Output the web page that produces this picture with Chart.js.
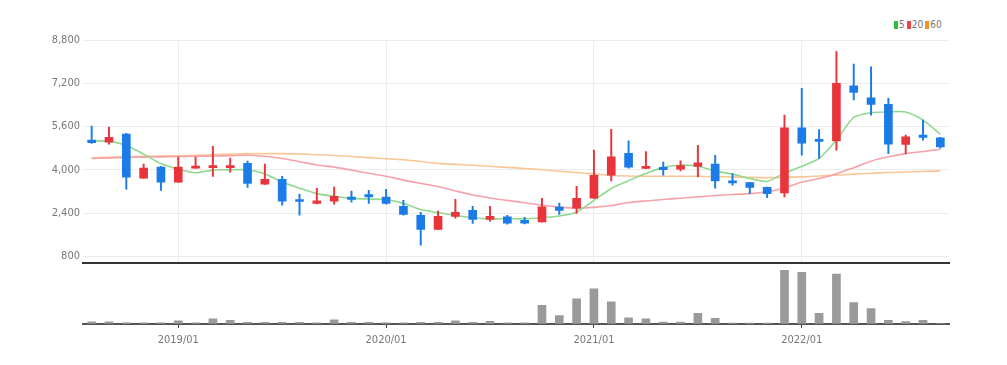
<!DOCTYPE html>
<html>
<head>
<meta charset="utf-8">
<script src="https://cdn.jsdelivr.net/npm/chart.js@4.4.1/dist/chart.umd.min.js"></script>
<style>
  html, body { margin: 0; padding: 0; background: #fff; }
  body { width: 1007px; height: 365px; position: relative; overflow: hidden;
         font-family: "Liberation Sans Narrow", "DejaVu Sans Condensed", "Liberation Sans", sans-serif; }
  #price-wrap { position: absolute; left: 0; top: 0; width: 1007px; height: 273px; }
  #vol-wrap { position: absolute; left: 0; top: 262px; width: 1007px; height: 103px; }
  #legend { position: absolute; top: 19px; left: 894px; font-size: 10px; color: #777; white-space: nowrap; }
  .legend-item { display: inline-block; margin-right: 2px; }
  .legend-dot { display: inline-block; width: 4px; height: 8px; margin-right: 1px; vertical-align: -1px; }
</style>
</head>
<body>
<div id="legend"></div>
<div id="price-wrap"><canvas id="price-canvas"></canvas></div>
<div id="vol-wrap"><canvas id="vol-canvas"></canvas></div>
<script>
const months = [
  '2018/08','2018/09','2018/10','2018/11','2018/12',
  '2019/01','2019/02','2019/03','2019/04','2019/05','2019/06','2019/07','2019/08','2019/09','2019/10','2019/11','2019/12',
  '2020/01','2020/02','2020/03','2020/04','2020/05','2020/06','2020/07','2020/08','2020/09','2020/10','2020/11','2020/12',
  '2021/01','2021/02','2021/03','2021/04','2021/05','2021/06','2021/07','2021/08','2021/09','2021/10','2021/11','2021/12',
  '2022/01','2022/02','2022/03','2022/04','2022/05','2022/06','2022/07','2022/08','2022/09',
];

const openP  = [5100,5020,5320,3690,4100,3540,4060,4080,4080,4240,3470,3650,2860,2760,2840,2990,3080,2990,2650,2320,
                1800,2280,2500,2170,2260,2130,2070,2620,2580,2950,3800,4610,4050,4090,4020,4130,4210,3590,3530,3350,
                3150,5550,5120,5070,7110,6660,6420,4940,5280,5180];
const highP  = [5615,5580,5350,4210,4130,4470,4470,4870,4430,4320,4210,3760,3100,3320,3360,3210,3240,3280,2870,2430,
                2470,2910,2650,2650,2320,2240,2950,2770,3390,4730,5500,5070,4670,4290,4330,4910,4540,3860,3540,3360,
                6020,7010,5490,8370,7910,7810,6640,5280,5840,5200];
const lowP   = [4980,4950,3280,3680,3240,3530,4050,3760,3910,3350,3460,2690,2320,2740,2730,2800,2760,2730,2320,1210,
                1790,2210,2020,2100,1990,2000,2060,2350,2390,2940,3590,4060,4040,3800,3960,3740,3320,3430,3120,2970,
                3000,4540,4420,4730,6580,6020,4600,4600,5100,4800];
const closeP = [5000,5200,3730,4060,3540,4100,4130,4130,4130,3500,3650,2840,2830,2850,3020,2910,3000,2760,2350,1800,
                2280,2430,2170,2280,2030,2030,2630,2500,2950,3800,4480,4100,4130,4010,4160,4260,3590,3520,3350,3120,
                5550,4990,5050,7200,6860,6420,4950,5220,5200,4850];

const ma5  = [5070,5060,4900,4580,4230,4020,3890,3990,4000,4000,3850,3550,3320,3120,3020,2940,2920,2900,2760,2530,
              2420,2320,2230,2190,2190,2190,2230,2290,2440,2870,3310,3600,3860,4090,4170,4130,3960,3840,3680,3570,
              3880,4130,4420,5100,5940,6110,6140,6140,5840,5320];
const ma20 = [4420,4440,4460,4470,4480,4490,4500,4510,4520,4540,4500,4420,4300,4180,4100,3990,3870,3760,3620,3500,
              3380,3220,3070,2960,2870,2780,2690,2620,2580,2610,2680,2790,2850,2900,2950,3000,3050,3090,3120,3190,
              3330,3550,3680,3850,4080,4320,4480,4600,4680,4760];
const ma60 = [4440,4460,4480,4500,4510,4520,4540,4560,4580,4600,4600,4600,4590,4560,4530,4490,4450,4410,4370,4310,
              4240,4200,4170,4130,4090,4050,4000,3950,3900,3850,3790,3770,3760,3760,3760,3760,3750,3740,3720,3710,
              3720,3740,3770,3800,3840,3870,3900,3920,3940,3960];

const volume = [20,20,10,10,10,30,10,50,35,15,15,15,15,10,40,15,15,10,10,15,
                15,30,15,25,10,10,186,83,250,350,220,60,50,17,17,106,56,8,8,8,
                536,516,106,500,213,153,36,23,36,3];

const priceTicks = [800, 2400, 4000, 5600, 7200, 8800];

const maLines = [
  { label: '5',  data: ma5,  color: '#8fd98f', legend: '#2fbf3a' },
  { label: '20', data: ma20, color: '#f5a3aa', legend: '#f0424a' },
  { label: '60', data: ma60, color: '#f9c796', legend: '#f7922d' },
];

const UP = '#e8353b', DOWN = '#1b7ce8';
const candleColors = openP.map((o, i) => closeP[i] >= o ? UP : DOWN);
const isJan = i => months[i].endsWith('/01');
const tickFont = { family: '"Liberation Sans Narrow", "DejaVu Sans Condensed", sans-serif', size: 11 };

document.getElementById('legend').innerHTML = maLines.map(m =>
  `<span class="legend-item"><span class="legend-dot" style="background:${m.legend}"></span>${m.label}</span>`
).join('');

new Chart(document.getElementById('price-canvas'), {
  type: 'bar',
  data: {
    labels: months,
    datasets: [
      ...maLines.map(m => ({
        type: 'line', label: m.label, data: m.data, borderColor: m.color, backgroundColor: m.color,
        borderWidth: 1.6, pointRadius: 0, tension: 0.25, order: 5,
      })),
      { label: 'wick', data: lowP.map((l, i) => [l, highP[i]]), backgroundColor: candleColors,
        barThickness: 1.3, grouped: false, order: 1 },
      { label: 'body', data: openP.map((o, i) => [o, closeP[i]]), backgroundColor: candleColors,
        barThickness: 8, minBarLength: 2, grouped: false, order: 0 },
    ],
  },
  options: {
    responsive: true,
    maintainAspectRatio: false,
    animation: false,
    layout: { padding: { top: 40, right: 58, left: 0, bottom: 0 } },
    plugins: { legend: { display: false }, tooltip: { enabled: false } },
    scales: {
      x: {
        offset: true,
        ticks: { display: false },
        grid: { offset: false, drawTicks: false, color: c => isJan(c.index) ? '#ececec' : 'rgba(0,0,0,0)' },
        border: { color: '#333', width: 2 },
      },
      y: {
        min: 540, max: 8800,
        afterBuildTicks: s => { s.ticks = priceTicks.map(v => ({ value: v })); },
        afterFit: s => { s.width = 83; },
        ticks: { color: '#777', font: tickFont, padding: 3, callback: v => v.toLocaleString('en-US') },
        grid: { color: '#ececec', drawTicks: false },
        border: { display: false },
      },
    },
  },
});

new Chart(document.getElementById('vol-canvas'), {
  type: 'bar',
  data: {
    labels: months,
    datasets: [{ data: volume, backgroundColor: '#9a9a9a', barThickness: 8 }],
  },
  options: {
    responsive: true,
    maintainAspectRatio: false,
    animation: false,
    layout: { padding: { top: 4, right: 58, left: 83, bottom: 12 } },
    plugins: { legend: { display: false }, tooltip: { enabled: false } },
    scales: {
      x: {
        offset: true,
        ticks: { autoSkip: false, maxRotation: 0, color: '#777', font: tickFont, padding: 6,
                 callback: (v, i) => isJan(i) ? months[i] : '' },
        grid: { offset: false, drawOnChartArea: false, tickLength: 4,
                color: c => isJan(c.index) ? '#333' : 'rgba(0,0,0,0)' },
        border: { color: '#555', width: 2 },
      },
      y: { display: false, min: 0, max: 580 },
    },
  },
});
</script>
</body>
</html>
